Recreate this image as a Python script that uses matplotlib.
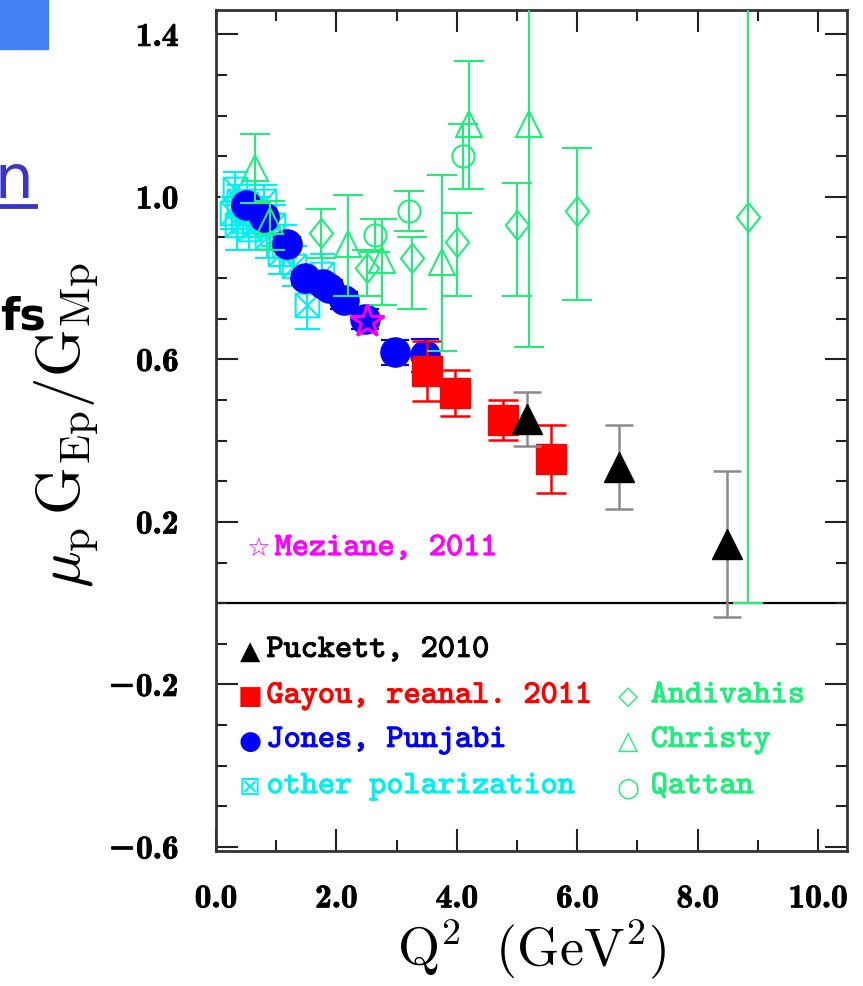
import matplotlib
matplotlib.use('Agg')
import matplotlib.pyplot as plt
import matplotlib.patheffects as pe
from matplotlib.path import Path
from matplotlib.ticker import MultipleLocator, FuncFormatter
from matplotlib.patches import Rectangle
from matplotlib.lines import Line2D

plt.rcParams['mathtext.fontset'] = 'cm'

# ---- data ----
# Puckett, 2010 (black triangles)
puck_q2 = [5.17, 6.70, 8.49]
puck_r = [0.453, 0.335, 0.145]
puck_err = [0.066, 0.104, 0.180]

# Gayou, reanalysed 2011 (red squares)
gay_q2 = [3.50, 3.97, 4.77, 5.56]
gay_r = [0.571, 0.517, 0.451, 0.355]
gay_err = [0.073, 0.057, 0.050, 0.083]

# Jones, Punjabi (blue circles)
jp_q2 = [0.49, 0.79, 1.18, 1.48, 1.77, 1.88, 2.13, 2.47, 2.97, 3.47]
jp_r = [0.980, 0.950, 0.885, 0.800, 0.785, 0.775, 0.745, 0.700, 0.617, 0.610]
jp_err = [0.010, 0.010, 0.015, 0.015, 0.020, 0.020, 0.020, 0.025, 0.030, 0.040]

# other polarization (cyan boxed x)
op_q2 = [0.27, 0.32, 0.35, 0.38, 0.44, 0.49, 0.55, 0.60, 0.70, 0.80, 0.85,
         0.95, 1.06, 1.13, 1.30, 1.51, 1.76]
op_r = [0.96, 1.02, 0.93, 0.99, 0.94, 0.97, 0.92, 0.96, 0.95, 0.99, 0.90,
        0.93, 0.86, 0.88, 0.83, 0.735, 0.81]
op_err = [0.04, 0.04, 0.06, 0.04, 0.04, 0.04, 0.05, 0.04, 0.05, 0.04, 0.05,
          0.05, 0.05, 0.05, 0.05, 0.06, 0.05]

# Meziane, 2011 (magenta star)
mez_q2 = [2.50]
mez_r = [0.695]

# Rosenbluth: Andivahis (diamonds), Christy (triangles), Qattan (circles)
and_q2 = [1.75, 2.50, 3.25, 4.00, 5.00, 6.00, 8.83]
and_r = [0.910, 0.825, 0.850, 0.890, 0.930, 0.965, 0.950]
and_lo = [0.060, 0.070, 0.125, 0.135, 0.175, 0.220, 0.950]
and_hi = [0.060, 0.045, 0.050, 0.070, 0.105, 0.155, 0.950]

chr_q2 = [0.65, 0.90, 2.20, 2.75, 3.75, 4.20, 5.20]
chr_r = [1.070, 0.940, 0.885, 0.845, 0.840, 1.180, 1.180]
chr_lo = [0.085, 0.070, 0.130, 0.110, 0.220, 0.160, 0.550]
chr_hi = [0.085, 0.050, 0.120, 0.100, 0.215, 0.155, 0.550]

qat_q2 = [2.64, 3.20, 4.10]
qat_r = [0.905, 0.965, 1.100]
qat_err = [0.040, 0.050, 0.080]

y_ticks = [-0.6, -0.2, 0.2, 0.6, 1.0, 1.4]

BLUE = '#0000ff'
RED = '#ff0000'
CYAN = '#00f0f0'
GREEN = '#22ec7c'
MAGENTA = '#ff00ff'

# boxed-x marker
boxx = Path([(-1, -1), (1, -1), (1, 1), (-1, 1), (-1, -1),
             (-1, -1), (1, 1), (-1, 1), (1, -1)],
            [Path.MOVETO, Path.LINETO, Path.LINETO, Path.LINETO, Path.CLOSEPOLY,
             Path.MOVETO, Path.LINETO, Path.MOVETO, Path.LINETO])
thin_diamond = [(0, 1), (0.8, 0), (0, -1), (-0.8, 0), (0, 1)]

fig = plt.figure(figsize=(8.63, 9.87), dpi=100)
ax = fig.add_axes([0.2503, 0.1368, 0.7312, 0.8521])

ax.errorbar(op_q2, op_r, yerr=op_err, fmt='none', ecolor=CYAN, elinewidth=1.5,
            capsize=9, capthick=1.5, zorder=2)
ax.plot(op_q2, op_r, ls='none', marker=boxx, ms=17, mfc='none', mec=CYAN,
        mew=1.5, zorder=2)

ax.errorbar(jp_q2, jp_r, yerr=jp_err, fmt='o', color=BLUE, ms=21,
            elinewidth=1.5, capsize=10, capthick=1.5, zorder=3)

ax.errorbar(gay_q2, gay_r, yerr=gay_err, fmt='s', color=RED, ms=21,
            elinewidth=1.8, capsize=11, capthick=1.8, zorder=4)

ax.errorbar(puck_q2, puck_r, yerr=puck_err, fmt='^', color='black', ms=22,
            ecolor='#8a8a8a', elinewidth=1.8, capsize=10, capthick=1.8, zorder=5)

ax.errorbar(and_q2, and_r, yerr=[and_lo, and_hi], fmt='none', ecolor=GREEN,
            elinewidth=1.5, capsize=11, capthick=1.5, zorder=6)
ax.plot(and_q2, and_r, ls='none', marker=thin_diamond, ms=21, mfc='none',
        mec=GREEN, mew=1.5, zorder=6)
ax.errorbar(chr_q2, chr_r, yerr=[chr_lo, chr_hi], fmt='^', ms=19, mfc='none',
            mec=GREEN, mew=1.5, ecolor=GREEN, elinewidth=1.5, capsize=11,
            capthick=1.5, zorder=6)
ax.errorbar(qat_q2, qat_r, yerr=qat_err, fmt='o', ms=16, mfc='none', mec=GREEN,
            mew=1.5, ecolor=GREEN, elinewidth=1.5, capsize=11, capthick=1.5,
            zorder=6)

ax.plot(mez_q2, mez_r, ls='none', marker='*', ms=25, mfc='none', mec=MAGENTA,
        mew=2.2, zorder=7)

ax.axhline(0, color='black', lw=1.6, zorder=1)

ax.set_xlim(0, 10.48)
ax.set_ylim(-0.61, 1.46)
ax.xaxis.set_major_locator(MultipleLocator(2))
ax.xaxis.set_minor_locator(MultipleLocator(1))
ax.set_yticks(y_ticks)
ax.yaxis.set_minor_locator(MultipleLocator(0.1))
fmt = FuncFormatter(lambda v, p: ('%.1f' % v).replace('-', '\u2212'))
ax.xaxis.set_major_formatter(fmt)
ax.yaxis.set_major_formatter(fmt)
ax.tick_params(which='both', direction='in', top=True, right=True,
               width=1.5, color='#222222')
ax.tick_params(which='major', length=16, labelsize=24, pad=27)
ax.tick_params(axis='x', which='major', pad=24)
ax.tick_params(which='minor', length=8)
thick = [pe.withStroke(linewidth=0.6, foreground='black')]
for lbl in ax.get_xticklabels() + ax.get_yticklabels():
    lbl.set_family(['cmb10', 'DejaVu Serif'])
    lbl.set_path_effects(thick)
for s in ax.spines.values():
    s.set_linewidth(2)
    s.set_color('#333333')

ax.set_xlabel(r'$\mathrm{Q^2\ \ (GeV^2)}$', fontsize=39, labelpad=2)
ax.set_ylabel(r'$\mu_{\rm p}\,{\rm G}_{\rm Ep}/{\rm G}_{\rm Mp}$', fontsize=44)
ax.yaxis.set_label_coords(-0.184, 0.508)

# legend, typed as text
def legtext(x, y, s, col):
    ax.text(x, y, s, color=col, family=['cmtt10', 'DejaVu Sans'], fontsize=23.5,
            va='center', transform=ax.transAxes,
            path_effects=[pe.withStroke(linewidth=0.8, foreground=col)])

sfont = dict(family='DejaVu Sans', fontsize=19, va='center', ha='center',
             transform=ax.transAxes)
rows = [(0.238, '\u25b2', 'Puckett, 2010', 'black'),
        (0.184, '\u25a0', 'Gayou, reanal. 2011', RED),
        (0.131, '\u25cf', 'Jones, Punjabi', BLUE),
        (0.076, '\u22a0', 'other polarization', CYAN)]
for yy, sym, lab, col in rows:
    ax.text(0.054, yy, sym, color=col, **sfont)
    legtext(0.080, yy, lab, col)
rows2 = [(0.184, '\u25c7', 'Andivahis'),
         (0.131, '\u25b3', 'Christy'),
         (0.076, '\u25cb', 'Qattan')]
for yy, sym, lab in rows2:
    ax.text(0.653, yy, sym, color=GREEN, **sfont)
    legtext(0.689, yy, lab, GREEN)
ax.text(0.067, 0.359, '\u2606', color=MAGENTA, **sfont)
legtext(0.093, 0.359, 'Meziane, 2011', MAGENTA)

# bits of the slide around the figure
fig.patches.append(Rectangle((0, 1 - 50 / 987), 48 / 863, 50 / 987,
                             transform=fig.transFigure, color='#4282f5'))
fig.text(33 / 863, 1 - 198 / 987, 'n', ha='right', va='baseline', fontsize=44,
         color='#3a35c8', family='DejaVu Sans')
fig.add_artist(Line2D([0, 35 / 863], [1 - 207 / 987] * 2, color='#3a35c8',
                      lw=3.5, transform=fig.transFigure))
fig.text(46 / 863, 1 - 330 / 987, 'fs', ha='right', va='baseline', fontsize=32,
         color='black', family='DejaVu Sans', fontweight='bold')

fig.savefig('out.png', dpi=100)
